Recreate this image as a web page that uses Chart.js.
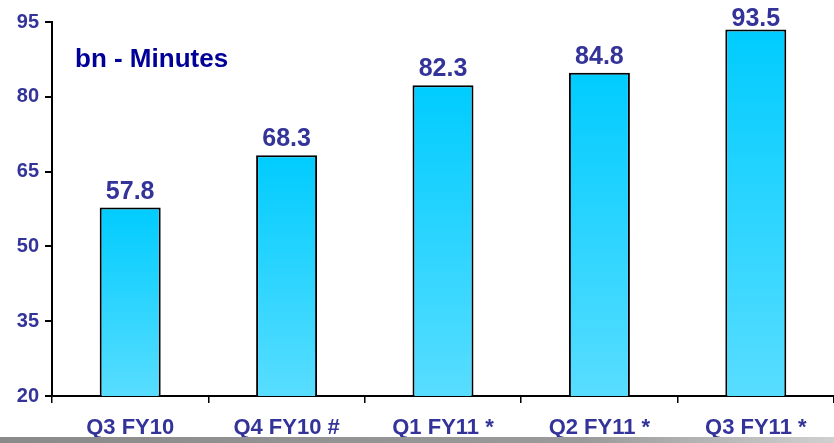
<!DOCTYPE html>
<html lang="en">
<head>
  <meta charset="UTF-8">
  <title>bn - Minutes</title>
  <script src="https://cdn.jsdelivr.net/npm/chart.js"></script>
  <style>
    html, body {
      margin: 0;
      padding: 0;
      background: #fff;
    }
    .wrap {
      position: relative;
      width: 834px;
      height: 443px;
    }
    .shadow {
      position: absolute;
      left: 0;
      bottom: 0;
      width: 834px;
      height: 6px;
      background: linear-gradient(to right, #8a8a8a, #9a9a9a 70%, #d0d0d0);
    }
  </style>
</head>
<body>
  <div class="wrap">
    <canvas id="minutesChart" width="834" height="443"></canvas>
    <div class="shadow"></div>
  </div>

  <script>
    const quarters = ['Q3 FY10', 'Q4 FY10 #', 'Q1 FY11 *', 'Q2 FY11 *', 'Q3 FY11 *'];
    const minutes = [57.8, 68.3, 82.3, 84.8, 93.5];
    const yTicks = [20, 35, 50, 65, 80, 95];
    const unitLabel = 'bn - Minutes';

    const labelBlue = '#333399';
    const font = 'Liberation Sans, Arial, sans-serif';

    // gradient per bar, from the bar top down to the axis
    function barFill(ctx) {
      const chart = ctx.chart;
      const area = chart.chartArea;
      if (!area || ctx.type !== 'data') return '#22d3ff';
      const y = chart.scales.y;
      const top = y.getPixelForValue(ctx.raw);
      const g = chart.ctx.createLinearGradient(0, top, 0, area.bottom);
      g.addColorStop(0, '#00ccff');
      g.addColorStop(1, '#58ddff');
      return g;
    }

    const valueLabels = {
      id: 'valueLabels',
      afterDatasetsDraw(chart) {
        const c = chart.ctx;
        const meta = chart.getDatasetMeta(0);
        c.save();
        c.font = 'bold 25px ' + font;
        c.fillStyle = labelBlue;
        c.textAlign = 'center';
        c.textBaseline = 'alphabetic';
        meta.data.forEach((bar, i) => {
          let y = bar.y - 9;
          if (y < 26) y = 26;
          c.fillText(minutes[i].toFixed(1), bar.x, y);
        });
        c.restore();
      }
    };

    const unitText = {
      id: 'unitText',
      afterDraw(chart) {
        const c = chart.ctx;
        c.save();
        c.font = 'bold 26px ' + font;
        c.fillStyle = '#000099';
        c.textAlign = 'left';
        c.textBaseline = 'alphabetic';
        c.fillText(unitLabel, chart.chartArea.left + 23, 67);
        c.restore();
      }
    };

    new Chart(document.getElementById('minutesChart'), {
      type: 'bar',
      data: {
        labels: quarters,
        datasets: [{
          data: minutes,
          backgroundColor: barFill,
          borderColor: '#000',
          borderWidth: 2,
          borderSkipped: 'bottom',
          categoryPercentage: 1,
          barPercentage: 0.39
        }]
      },
      options: {
        responsive: false,
        animation: false,
        layout: { padding: { top: 22, right: 0, left: 0, bottom: 0 } },
        plugins: {
          legend: { display: false },
          tooltip: { enabled: false }
        },
        scales: {
          x: {
            grid: {
              drawOnChartArea: false,
              offset: true,
              tickLength: 7,
              color: '#000',
              lineWidth: 1.5
            },
            border: { color: '#000', width: 2 },
            ticks: {
              color: labelBlue,
              font: { family: font, size: 22, weight: 'bold' },
              padding: 12
            },
            afterFit(scale) { scale.height = 47; }
          },
          y: {
            min: 20,
            max: 95,
            afterBuildTicks(scale) {
              scale.ticks = yTicks.map(v => ({ value: v }));
            },
            grid: {
              drawOnChartArea: false,
              tickLength: 7,
              color: '#000',
              lineWidth: 2
            },
            border: { color: '#000', width: 2 },
            ticks: {
              color: labelBlue,
              font: { family: font, size: 20, weight: 'bold' },
              padding: 6
            },
            afterFit(scale) { scale.width = 52; }
          }
        }
      },
      plugins: [valueLabels, unitText]
    });
  </script>
</body>
</html>
